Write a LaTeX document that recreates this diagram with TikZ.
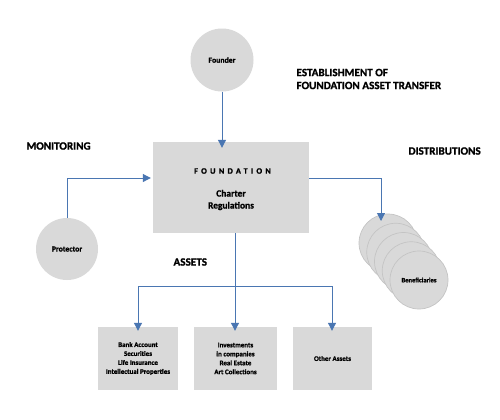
\documentclass[tikz,border=0pt]{standalone}
\usepackage{fontspec}
\setmainfont{Carlito}[BoldFeatures={FakeBold=1.2}]
\newfontfamily\spacedfont{Carlito}[LetterSpace=40,BoldFeatures={FakeBold=1.2}]
\usetikzlibrary{arrows.meta}
\definecolor{boxgray}{HTML}{D9D9D9}
\definecolor{linkblue}{HTML}{4A76B2}
\definecolor{rimgray}{HTML}{C4C4C4}
\begin{document}
\begin{tikzpicture}[x=1bp,y=-1bp,
  flow/.style={draw=linkblue,line width=1bp,-{Triangle[width=8bp,length=8bp]}},
  circ/.style={circle,fill=boxgray,inner sep=0pt,font=\bfseries\fontsize{7.8}{9}\selectfont},
  bencirc/.style={circle,fill=boxgray,draw=rimgray,line width=0.7bp,minimum size=58bp,inner sep=0pt},
  assetbox/.style={rectangle,fill=boxgray,inner sep=0pt,align=center,font=\bfseries\fontsize{7}{9}\selectfont},
  heading/.style={font=\bfseries\fontsize{11.2}{13}\selectfont,align=left,anchor=west}]
\useasboundingbox[fill=white] (0,0) rectangle (500,419);
% founder
\node[circ,minimum size=63bp] (founder) at (222,60) {Founder};
% foundation
\node[rectangle,fill=boxgray,minimum width=156bp,minimum height=91bp,inner sep=0pt] (found) at (231,187.5) {};
\node[font=\bfseries\spacedfont\fontsize{8.3}{10}\selectfont] (ftitle) at (232.5,171) {FOUNDATION};
\node[font=\bfseries\fontsize{9.5}{12}\selectfont,align=center] (fsub) at (231,200) {Charter\\Regulations};
% headings
\node[heading] (hest) at (293,79) {ESTABLISHMENT OF\\FOUNDATION ASSET TRANSFER};
\node[heading] (hmon) at (23,146) {MONITORING};
\node[heading] (hdist) at (405,151) {DISTRIBUTIONS};
\node[heading] (hass) at (170,262) {ASSETS};
% protector
\node[circ,minimum size=62bp] (prot) at (67,249) {Protector};
% beneficiaries
\foreach \i in {0,...,3}{
  \node[bencirc] (ben\i) at (388+7.75*\i,243+9.25*\i) {};
}
\node[bencirc,font=\bfseries\fontsize{6.6}{8}\selectfont] (ben) at (419,280) {Beneficiaries};
% asset boxes
\node[assetbox,minimum width=80bp,minimum height=63bp] (a1) at (138,358.5) {Bank Account\\Securities\\Life Insurance\\Intellectual Properties};
\node[assetbox,minimum width=83bp,minimum height=63bp] (a2) at (235.5,358.5) {Investments\\in companies\\Real Estate\\Art Collections};
\node[assetbox,minimum width=79bp,minimum height=63bp] (a3) at (332.5,358.5) {Other Assets};
% connectors
\coordinate (fbot) at (235,233);
\coordinate (jl) at (138,286);
\coordinate (jr) at (332,286);
\draw[flow] (founder.south) -- ([yshift=-6bp]founder.south |- found.north);
\draw[flow] (prot.north) |- ([xshift=-2bp]found.west |- 0,178);
\draw[flow] (found.east |- 0,178) -| ([yshift=-8bp]381,213);
\draw[flow] (fbot) -- ([yshift=-4bp]fbot |- a2.north);
\draw[linkblue,line width=1bp] (jl) -- (jr);
\draw[flow] (jl) -- ([yshift=-4bp]jl |- a1.north);
\draw[flow] (jr) -- ([yshift=-4bp]jr |- a3.north);
\end{tikzpicture}
\end{document}
